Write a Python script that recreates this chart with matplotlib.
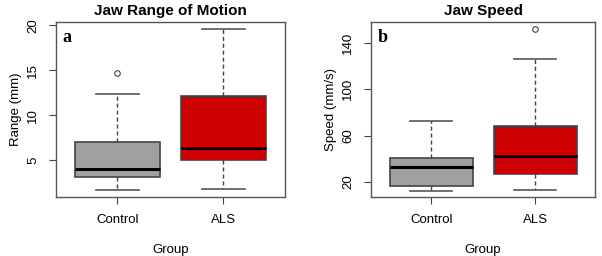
import matplotlib.pyplot as plt

plt.rcParams['font.family'] = ['Liberation Sans', 'DejaVu Sans']

groups = ['Control', 'ALS']
colors = ['#a0a0a0', '#cc0000']

# valores: min, q1, mediana, q3, max, atipicos
range_low = [1.7, 1.8]
range_q1 = [3.1, 5.0]
range_med = [4.0, 6.4]
range_q3 = [7.0, 12.1]
range_high = [12.4, 19.6]
range_out = [[14.7], []]

speed_low = [12.5, 12.7]
speed_q1 = [16.2, 27.2]
speed_med = [33.0, 42.2]
speed_q3 = [40.8, 67.9]
speed_high = [72.4, 125.8]
speed_out = [[], [152.3]]

fig = plt.figure(figsize=(6.02, 2.56), dpi=100)
ax1 = fig.add_axes([0.093, 0.230, 0.380, 0.684])
ax2 = fig.add_axes([0.616, 0.230, 0.373, 0.684])


def dibujar(ax, low, q1, med, q3, high, out, titulo, ylabel, letra, ylim, yticks):
    stats = []
    for i in range(len(groups)):
        stats.append({'whislo': low[i], 'q1': q1[i], 'med': med[i], 'q3': q3[i],
                      'whishi': high[i], 'fliers': out[i], 'label': groups[i]})
    bp = ax.bxp(stats, positions=[1, 2], widths=0.8, capwidths=0.4, patch_artist=True,
                boxprops=dict(edgecolor='#444444', linewidth=1.2),
                whiskerprops=dict(color='#444444', linestyle=(0, (3, 2)), linewidth=1.0),
                capprops=dict(color='#555555', linewidth=1.2),
                medianprops=dict(color='black', linewidth=2.2),
                flierprops=dict(marker='o', markerfacecolor='white', markeredgecolor='#444444',
                                markersize=4, markeredgewidth=0.8))
    for caja, c in zip(bp['boxes'], colors):
        caja.set_facecolor(c)
    ax.set_xlim(0.42, 2.58)
    ax.set_ylim(*ylim)
    ax.set_yticks(yticks)
    ax.set_yticklabels([str(t) for t in yticks], rotation=90, va='center')
    ax.set_xticks([1, 2])
    ax.set_xticklabels(groups)
    ax.tick_params(direction='out', length=5, width=0.8, color='#444444', labelsize=9.5, pad=7)
    for s in ax.spines.values():
        s.set_color('#555555')
        s.set_linewidth(1.0)
    ax.set_title(titulo, fontsize=11, fontweight='bold', pad=5)
    ax.set_xlabel('Group', fontsize=9.5, labelpad=13)
    ax.set_ylabel(ylabel, fontsize=9.5, labelpad=4)
    ax.text(0.03, 0.96, letra, transform=ax.transAxes, fontsize=13, fontweight='bold',
            family='Liberation Serif', va='top', ha='left')


dibujar(ax1, range_low, range_q1, range_med, range_q3, range_high, range_out,
        'Jaw Range of Motion', 'Range (mm)', 'a', (0.9, 20.35), [5, 10, 15, 20])
dibujar(ax2, speed_low, speed_q1, speed_med, speed_q3, speed_high, speed_out,
        'Jaw Speed', 'Speed (mm/s)', 'b', (6.9, 158.0), [20, 60, 100, 140])

fig.savefig('out.png', dpi=100)
